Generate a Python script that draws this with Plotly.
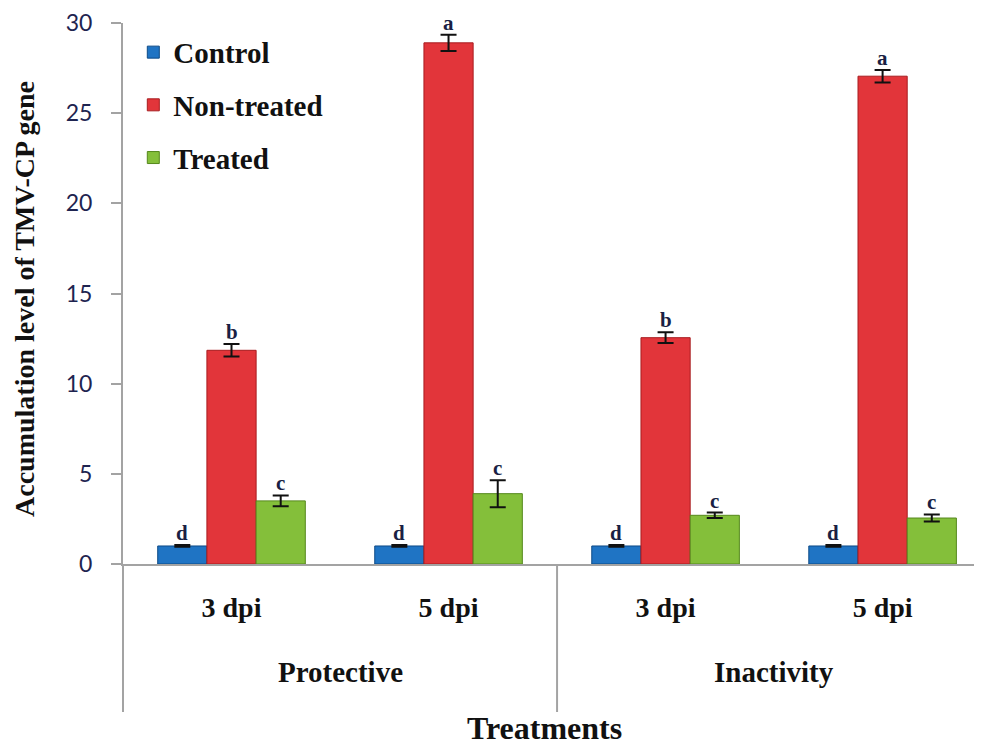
import plotly.graph_objects as go

# ---- data ----
subgroup_labels = ["3 dpi", "5 dpi", "3 dpi", "5 dpi"]
group_labels = ["Protective", "Inactivity"]
series_names = ["Control", "Non-treated", "Treated"]

control = [1.0, 1.0, 1.0, 1.0]
control_err = [0.05, 0.05, 0.05, 0.05]
non_treated = [11.85, 28.9, 12.55, 27.05]
non_treated_err = [0.35, 0.45, 0.3, 0.35]
treated = [3.5, 3.9, 2.7, 2.55]
treated_err = [0.3, 0.75, 0.15, 0.2]

control_letters = ["d", "d", "d", "d"]
non_treated_letters = ["b", "a", "b", "a"]
treated_letters = ["c", "c", "c", "c"]

y_ticks = [0, 5, 10, 15, 20, 25, 30]

# ---- styling ----
SERIF = "Liberation Serif, Times New Roman, serif"
colors = ["#1f74c4", "#e2353a", "#84bf3a"]
edge_colors = ["#0d4a86", "#a81c1f", "#55881c"]
bargap = 0.32
x_pos = list(range(len(subgroup_labels)))
x_min, x_max = -0.5, 3.458

fig = go.Figure()
values = [control, non_treated, treated]
errors = [control_err, non_treated_err, treated_err]
letters = [control_letters, non_treated_letters, treated_letters]

for i, name in enumerate(series_names):
    fig.add_trace(go.Bar(
        x=x_pos, y=values[i], name=name, legendgroup=name,
        marker=dict(color=colors[i], line=dict(color=edge_colors[i], width=1)),
        error_y=dict(type="data", array=errors[i], color="#111111",
                     thickness=2, width=8),
    ))

bar_w = (1 - bargap) / len(series_names)
for i in range(len(series_names)):
    off = (i - 1) * bar_w
    for j, xv in enumerate(x_pos):
        fig.add_annotation(
            x=xv + off, y=values[i][j] + errors[i][j], xref="x", yref="y",
            text=letters[i][j], showarrow=False, yanchor="bottom", yshift=-1,
            borderpad=0,
            font=dict(family=SERIF, size=21, color="#1a1f44", weight="bold"),
        )

# group labels
for g, name in enumerate(group_labels):
    fig.add_annotation(
        x=2 * g + 0.5, y=-0.2, xref="x", yref="paper", text=name,
        showarrow=False, yanchor="middle",
        font=dict(family=SERIF, size=29, color="#111111", weight="bold"),
    )

# x title
fig.add_annotation(
    x=0.491, y=-0.303, xref="paper", yref="paper", text="Treatments",
    showarrow=False, yanchor="middle",
    font=dict(family=SERIF, size=32, color="#111111", weight="bold"),
)
# y title
fig.add_annotation(
    x=-0.114, y=0.49, xref="paper", yref="paper",
    text="Accumulation level of TMV-CP gene", textangle=-90,
    showarrow=False, xanchor="center", yanchor="middle",
    font=dict(family=SERIF, size=28, color="#111111", weight="bold"),
)

# divider lines (axis extension and group separator)
bottom = -(712 - 564) / 541
div_x = (1.5 - x_min) / (x_max - x_min)
for px in [0, div_x]:
    fig.add_shape(type="line", xref="paper", yref="paper",
                  x0=px, x1=px, y0=0, y1=bottom,
                  line=dict(color="#a3a3a3", width=2))

fig.update_layout(
    width=974, height=737,
    margin=dict(l=115, r=0, t=15, b=181),
    paper_bgcolor="white", plot_bgcolor="white",
    barmode="group", bargap=bargap, bargroupgap=0,
    showlegend=True,
    legend=dict(x=0.012, y=0.993, xanchor="left", yanchor="top",
                bgcolor="rgba(0,0,0,0)", tracegroupgap=12,
                font=dict(family=SERIF, size=29, color="#111111", weight="bold")),
    xaxis=dict(range=[x_min, x_max], tickvals=x_pos, ticktext=subgroup_labels,
               showline=True, linecolor="#a3a3a3", linewidth=2,
               ticks="outside", ticklen=17, tickcolor="rgba(0,0,0,0)",
               showgrid=False, zeroline=False,
               tickfont=dict(family=SERIF, size=28, color="#111111", weight="bold")),
    yaxis=dict(range=[0, 30], tickvals=y_ticks,
               showline=True, linecolor="#a3a3a3", linewidth=2,
               ticks="outside", ticklen=10, tickcolor="#a3a3a3", tickwidth=2,
               ticklabelstandoff=14,
               showgrid=False, zeroline=False,
               tickfont=dict(family="Lato, Carlito, sans-serif", size=23, color="#1e2450")),
)

fig.write_html("out.html")
